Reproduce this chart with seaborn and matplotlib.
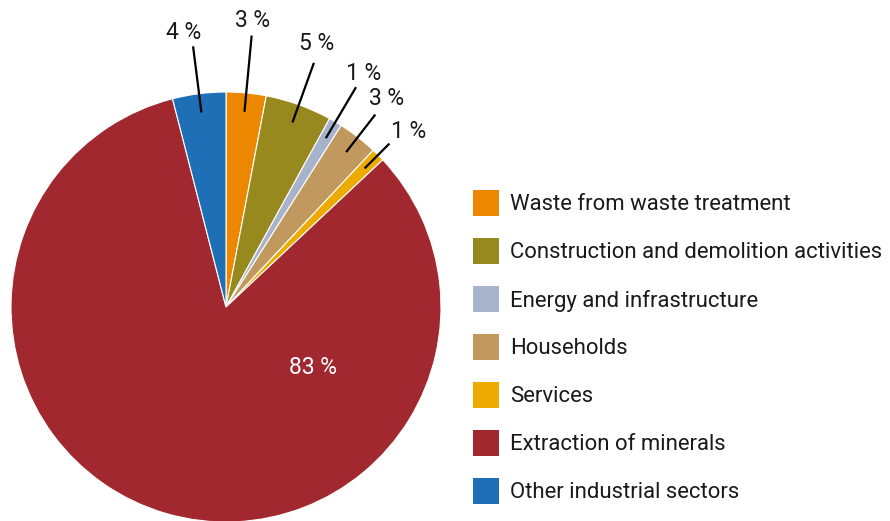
import matplotlib
matplotlib.use("Agg")
import matplotlib.pyplot as plt
from matplotlib.patches import Rectangle
import numpy as np
import seaborn as sns

# Waste generation by economic activity (share of total, %)
categories = [
    "Waste from waste treatment",
    "Construction and demolition activities",
    "Energy and infrastructure",
    "Households",
    "Services",
    "Extraction of minerals",
    "Other industrial sectors",
]
shares = [3, 5, 1, 3, 1, 83, 4]
colors = ["#EE8700", "#97891E", "#A6B3CB", "#C1995E", "#EDAA00", "#A1282F", "#1F6FB6"]

sns.set_theme(style="white")
plt.rcParams["font.family"] = ["Roboto", "DejaVu Sans"]

W, H = 890, 521
fig = plt.figure(figsize=(W / 100, H / 100), dpi=100)
ax = fig.add_axes([0, 0, 1, 1])

cx, cy, R = 226, H - 307, 215
wedges, _ = ax.pie(
    shares, colors=colors, startangle=90, counterclock=False,
    center=(cx, cy), radius=R,
    wedgeprops=dict(edgecolor="white", linewidth=0.8),
)
ax.set_xlim(0, W)
ax.set_ylim(0, H)
ax.set_aspect("auto")
ax.axis("off")

# leader line outer radius (fraction of R) and text offset (px) per slice
leader_out = [1.268, 1.207, 1.188, 1.133, 1.075, None, 1.222]
text_off = [(1, 15), (3, 19), (8, 14), (11, 16), (19, 12), None, (-9, 14)]
inner = 0.912

for i, w in enumerate(wedges):
    mid = np.deg2rad((w.theta1 + w.theta2) / 2)
    label = f"{shares[i]} %"
    if leader_out[i] is None:
        ax.text(313, H - 368, label, color="white", fontsize=16.5,
                ha="center", va="center")
        continue
    x0, y0 = cx + inner * R * np.cos(mid), cy + inner * R * np.sin(mid)
    x1, y1 = cx + leader_out[i] * R * np.cos(mid), cy + leader_out[i] * R * np.sin(mid)
    ax.plot([x0, x1], [y0, y1], color="black", lw=1.6, solid_capstyle="butt")
    dx, dy = text_off[i]
    ax.text(x1 + dx, y1 + dy, label, color="#1a1a1a", fontsize=16.5,
            ha="center", va="center")

# legend
for i, (name, col) in enumerate(zip(categories, colors)):
    yc = H - (203 + 48 * i)
    ax.add_patch(Rectangle((473, yc - 13), 26, 26, facecolor=col, edgecolor="none"))
    ax.text(510, yc - 1.5, name, color="#1a1a1a", fontsize=15.9, ha="left", va="center")

fig.savefig("out.png", dpi=100)
